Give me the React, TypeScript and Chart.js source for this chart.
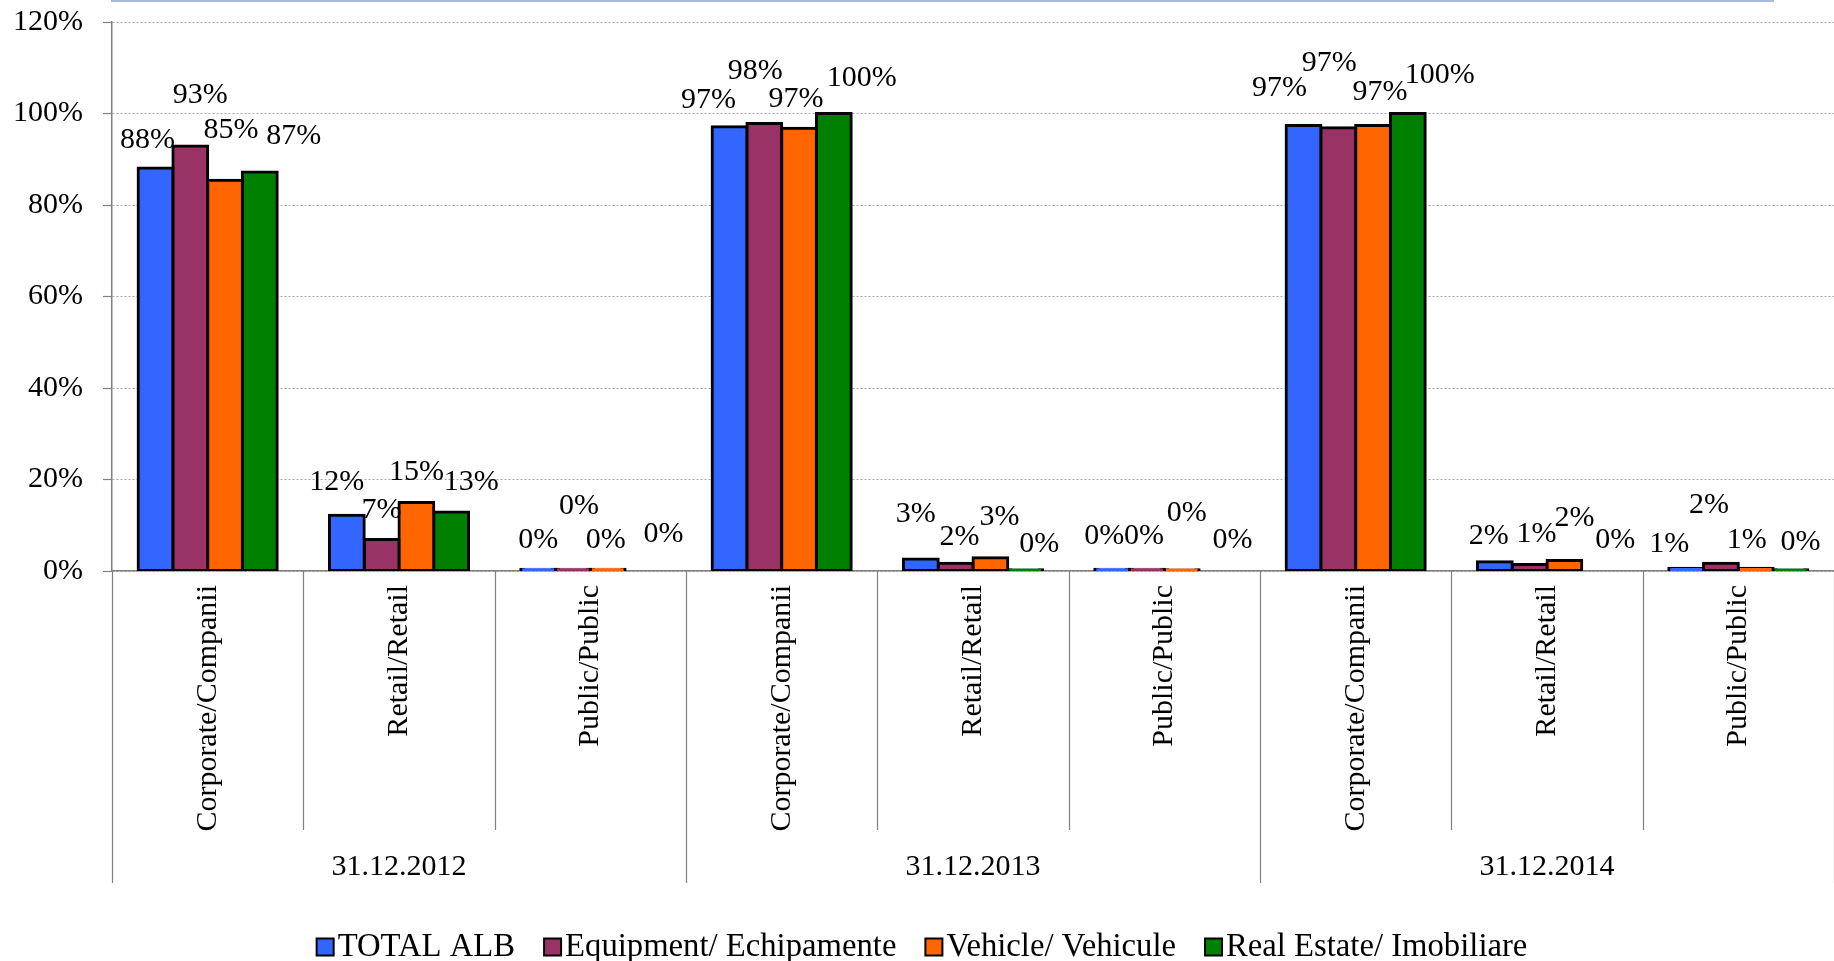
import React, { useEffect, useRef } from "react";
import { Chart, registerables } from "chart.js";

Chart.register(...registerables);

const CATEGORIES = [
  "Corporate/Companii", "Retail/Retail", "Public/Public",
  "Corporate/Companii", "Retail/Retail", "Public/Public",
  "Corporate/Companii", "Retail/Retail", "Public/Public",
];
const GROUPS = ["31.12.2012", "31.12.2013", "31.12.2014"];
const SERIES_NAMES = ["TOTAL ALB", "Equipment/ Echipamente", "Vehicle/ Vehicule", "Real Estate/ Imobiliare"];

const TOTAL_ALB = [0.881, 0.122, 0.004, 0.971, 0.026, 0.004, 0.974, 0.020, 0.006];
const EQUIPMENT = [0.929, 0.069, 0.004, 0.978, 0.017, 0.004, 0.969, 0.014, 0.017];
const VEHICLE = [0.854, 0.150, 0.004, 0.968, 0.029, 0.003, 0.974, 0.023, 0.006];
const REAL_ESTATE = [0.872, 0.129, 0, 1.0, 0.003, 0, 1.0, 0, 0.003];

const Y_MIN = 0;
const Y_MAX = 1.2;
const Y_STEP = 0.2;

const COLORS = ["#3366FF", "#993366", "#FF6600", "#008000"];
const FONT = "'Liberation Serif', 'Times New Roman', serif";

// label nudges (pixels) relative to the bar top, to mimic the staggered labels
const LABEL_DX = [
  [-8, -10, 0, -21, -5, -8, -24, -6, -17],
  [10, 0, 6, -9, 4, -3, -9, 7, -12],
  [6, 0, -2, -3, 9, 5, 7, 10, -9],
  [34, 20, 21, 28, 14, 16, 32, 16, 10],
];
const LABEL_DY = [
  [-28, -33, -29, -27, -45, -33, -37, -26, -24],
  [-51, -29, -63, -52, -26, -33, -65, -30, -58],
  [-50, -30, -29, -29, -41, -57, -33, -42, -28],
  [-36, -30, -37, -35, -26, -31, -38, -31, -28],
];

const pct = (v: number) => Math.round(v * 100) + "%";

const decorPlugin = {
  id: "decor",
  afterDatasetsDraw(chart: any) {
    const ctx = chart.ctx;
    ctx.save();
    ctx.font = `30px ${FONT}`;
    ctx.fillStyle = "#000";
    ctx.textAlign = "center";
    ctx.textBaseline = "middle";
    chart.data.datasets.forEach((ds: any, j: number) => {
      const meta = chart.getDatasetMeta(j);
      meta.data.forEach((el: any, i: number) => {
        ctx.fillText(pct(ds.data[i]), el.x + LABEL_DX[j][i], el.y + LABEL_DY[j][i]);
      });
    });
    ctx.restore();
  },
  afterDraw(chart: any) {
    const { ctx, chartArea, scales } = chart;
    const x = scales.x;
    const n = CATEGORIES.length;
    const w = (chartArea.right - chartArea.left) / n;
    const bottom = chartArea.bottom;
    ctx.save();
    // separators
    ctx.strokeStyle = "#808080";
    ctx.lineWidth = 1.2;
    for (let k = 0; k <= n; k++) {
      const bx = Math.round(chartArea.left + k * w) + 0.5;
      const isGroup = k % 3 === 0;
      ctx.beginPath();
      ctx.moveTo(bx, bottom);
      ctx.lineTo(bx, bottom + (isGroup ? 312 : 259));
      ctx.stroke();
    }
    // category labels
    ctx.font = `30px ${FONT}`;
    ctx.fillStyle = "#000";
    CATEGORIES.forEach((c, i) => {
      const cx = x.getPixelForValue(i);
      ctx.save();
      ctx.translate(cx, bottom + 14);
      ctx.rotate(-Math.PI / 2);
      ctx.textAlign = "right";
      ctx.textBaseline = "middle";
      ctx.fillText(c, 0, 0);
      ctx.restore();
    });
    // group labels
    ctx.textAlign = "center";
    ctx.textBaseline = "middle";
    GROUPS.forEach((g, gi) => {
      const gx = chartArea.left + (gi * 3 + 1.5) * w;
      ctx.fillText(g, gx, bottom + 296);
    });
    // legend
    ctx.font = `32.7px ${FONT}`;
    const box = 17;
    const gapText = 4;
    const gapItem = 29;
    const widths = SERIES_NAMES.map((s) => ctx.measureText(s).width);
    const total = widths.reduce((a, b) => a + b, 0) + SERIES_NAMES.length * (box + gapText) + gapItem * (SERIES_NAMES.length - 1);
    let lx = (chart.width - total) / 2 + 5;
    const ly = 947;
    SERIES_NAMES.forEach((s, i) => {
      ctx.fillStyle = COLORS[i];
      ctx.fillRect(lx, ly - box / 2, box, box);
      ctx.strokeStyle = "#000";
      ctx.lineWidth = 2;
      ctx.strokeRect(lx, ly - box / 2, box, box);
      ctx.fillStyle = "#000";
      ctx.textAlign = "left";
      ctx.fillText(s, lx + box + gapText, ly);
      lx += box + gapText + widths[i] + gapItem;
    });
    // top frame remnant
    ctx.strokeStyle = "#A9B8E0";
    ctx.lineWidth = 2;
    ctx.beginPath();
    ctx.moveTo(chartArea.left - 1, 1);
    ctx.lineTo(chartArea.right - 60, 1);
    ctx.stroke();
    ctx.restore();
  },
};

export default function App() {
  const ref = useRef<HTMLCanvasElement>(null);
  useEffect(() => {
    const seriesData = [TOTAL_ALB, EQUIPMENT, VEHICLE, REAL_ESTATE];
    const chart = new Chart(ref.current as HTMLCanvasElement, {
      type: "bar",
      data: {
        labels: CATEGORIES,
        datasets: seriesData.map((d, i) => ({
          label: SERIES_NAMES[i],
          data: d,
          backgroundColor: COLORS[i],
          borderColor: "#000",
          borderWidth: 3,
          borderSkipped: false,
          inflateAmount: 1.5,
          categoryPercentage: 0.727,
          barPercentage: 1,
        })),
      },
      options: {
        responsive: false,
        maintainAspectRatio: false,
        animation: false,
        layout: { padding: { top: 22, right: 0, bottom: 0, left: 0 } },
        plugins: {
          legend: { display: false },
          tooltip: { enabled: false },
          title: { display: false },
        },
        scales: {
          x: {
            type: "category",
            grid: { display: false },
            border: { display: true, color: "#808080", width: 1.5 },
            ticks: { display: false },
            afterFit: (s: any) => {
              s.height = 390;
              s.paddingLeft = 0;
              s.paddingRight = 0;
              s.paddingTop = 0;
              s.paddingBottom = 0;
            },
          },
          y: {
            min: Y_MIN,
            max: Y_MAX,
            ticks: {
              stepSize: Y_STEP,
              callback: (v: any) => pct(Number(v)),
              font: { family: FONT, size: 30 },
              color: "#000",
              padding: 20,
            },
            grid: {
              color: "#a8a8a8",
              lineWidth: 1,
              tickLength: 9,
              tickColor: "#808080",
              tickWidth: 1.2,
              tickBorderDash: [],
            },
            border: { display: true, color: "#808080", width: 1.5, dash: [2, 2] },
            afterFit: (s: any) => {
              s.width = 112;
              s.paddingTop = 0;
              s.paddingBottom = 0;
              s.paddingLeft = 0;
              s.paddingRight = 0;
            },
          },
        },
      } as any,
      plugins: [decorPlugin],
    });
    return () => chart.destroy();
  }, []);
  return (
    <div style={{ position: "fixed", left: 0, top: 0, width: 1834, height: 961, background: "#fff" }}>
      <canvas ref={ref} width={1834} height={961} style={{ width: 1834, height: 961, display: "block" }} />
    </div>
  );
}
